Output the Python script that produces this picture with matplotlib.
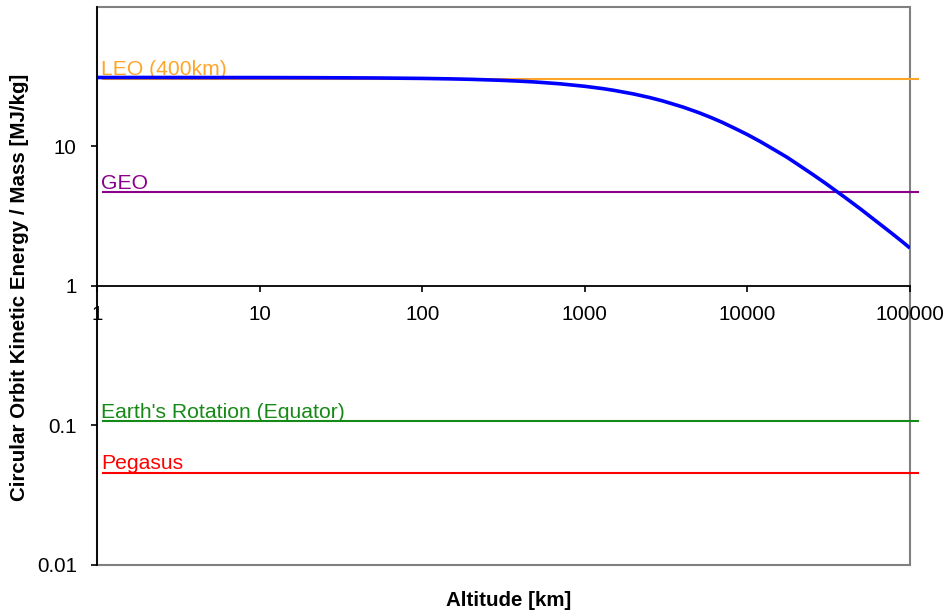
import matplotlib
matplotlib.use("Agg")
import matplotlib.pyplot as plt
from matplotlib.patches import Rectangle
from matplotlib.ticker import FixedLocator, FixedFormatter, NullLocator

plt.rcParams['font.family'] = ['Liberation Sans', 'DejaVu Sans']

# Data
altitude_km = [1, 2, 5, 10, 20, 50, 100, 150, 200, 300, 400, 500, 700, 1000, 1300,
               1500, 2000, 2500, 3000, 4000, 5000, 6000, 7000, 8500, 10000, 12000,
               15000, 17500, 20000, 25000, 30000, 35000, 40000, 45000, 50000, 60000,
               70000, 80000, 90000, 100000]
energy_mj = [31.24, 31.24, 31.22, 31.20, 31.15, 31.00, 30.77, 30.53, 30.30, 29.84,
             29.40, 28.98, 28.16, 27.01, 25.96, 25.30, 23.79, 22.45, 21.25, 19.20,
             17.52, 16.10, 14.90, 13.37, 12.17, 10.85, 9.32, 8.38, 7.56, 6.35,
             5.48, 4.81, 4.30, 3.88, 3.54, 3.00, 2.61, 2.31, 2.07, 1.87]

ref_names = ["LEO (400km)", "GEO", "Earth's Rotation (Equator)", "Pegasus"]
ref_values = [30.7, 4.73, 0.108, 0.046]
ref_colors = ["#FFA52A", "#8B008B", "#168A16", "#FF0000"]
ref_x = [1.09, 112000]

x_ticks = [1, 10, 100, 1000, 10000, 100000]
x_labels = ["1", "10", "100", "1000", "10000", "100000"]
y_ticks = [0.01, 0.1, 1, 10]
y_labels = ["0.01", "0.1", "1", "10"]

FS = 14.8

fig = plt.figure(figsize=(9.46, 6.13), dpi=100)
ax = fig.add_axes([97/946, 1-565/613, (910-97)/946, (565-7)/613])
ax.set_xscale('log')
ax.set_yscale('log')
ax.set_xlim(1, 100000)
ax.set_ylim(0.01, 100)

for name, val, col in zip(ref_names, ref_values, ref_colors):
    ax.plot(ref_x, [val, val], color=col, lw=1.5, clip_on=False, zorder=2)
    ax.text(1.06, val * 0.985, name, color=col, fontsize=15.2, ha='left', va='bottom')

ax.plot(altitude_km, energy_mj, color='#0000FF', lw=2.6, zorder=3, solid_capstyle='butt')

# frame
for s in ['top', 'right']:
    ax.spines[s].set_visible(False)
ax.add_patch(Rectangle((0, 0), 1, 1, transform=ax.transAxes, fill=False,
                       edgecolor='#808080', lw=1.5, zorder=1, clip_on=False))
ax.spines['left'].set_color('black')
ax.spines['left'].set_linewidth(1.3)
ax.spines['left'].set_zorder(4)
ax.spines['bottom'].set_position(('data', 1))
ax.spines['bottom'].set_color('black')
ax.spines['bottom'].set_linewidth(1.3)

ax.xaxis.set_major_locator(FixedLocator(x_ticks))
ax.xaxis.set_major_formatter(FixedFormatter(x_labels))
ax.xaxis.set_minor_locator(NullLocator())
ax.yaxis.set_major_locator(FixedLocator(y_ticks))
ax.yaxis.set_major_formatter(FixedFormatter(y_labels))
ax.yaxis.set_minor_locator(NullLocator())
ax.tick_params(axis='x', direction='out', length=4.5, width=1.2, pad=9, labelsize=FS)
ax.tick_params(axis='y', direction='out', length=4.5, width=1.2, pad=10, labelsize=FS)

fig.text(509/946, 1-601/613, "Altitude [km]", ha='center', va='center',
         fontsize=FS, fontweight='bold')
fig.text(20/946, 1-287/613, "Circular Orbit Kinetic Energy / Mass [MJ/kg]", ha='center',
         va='center', rotation=90, fontsize=FS, fontweight='bold')

fig.savefig("out.png", dpi=100)
